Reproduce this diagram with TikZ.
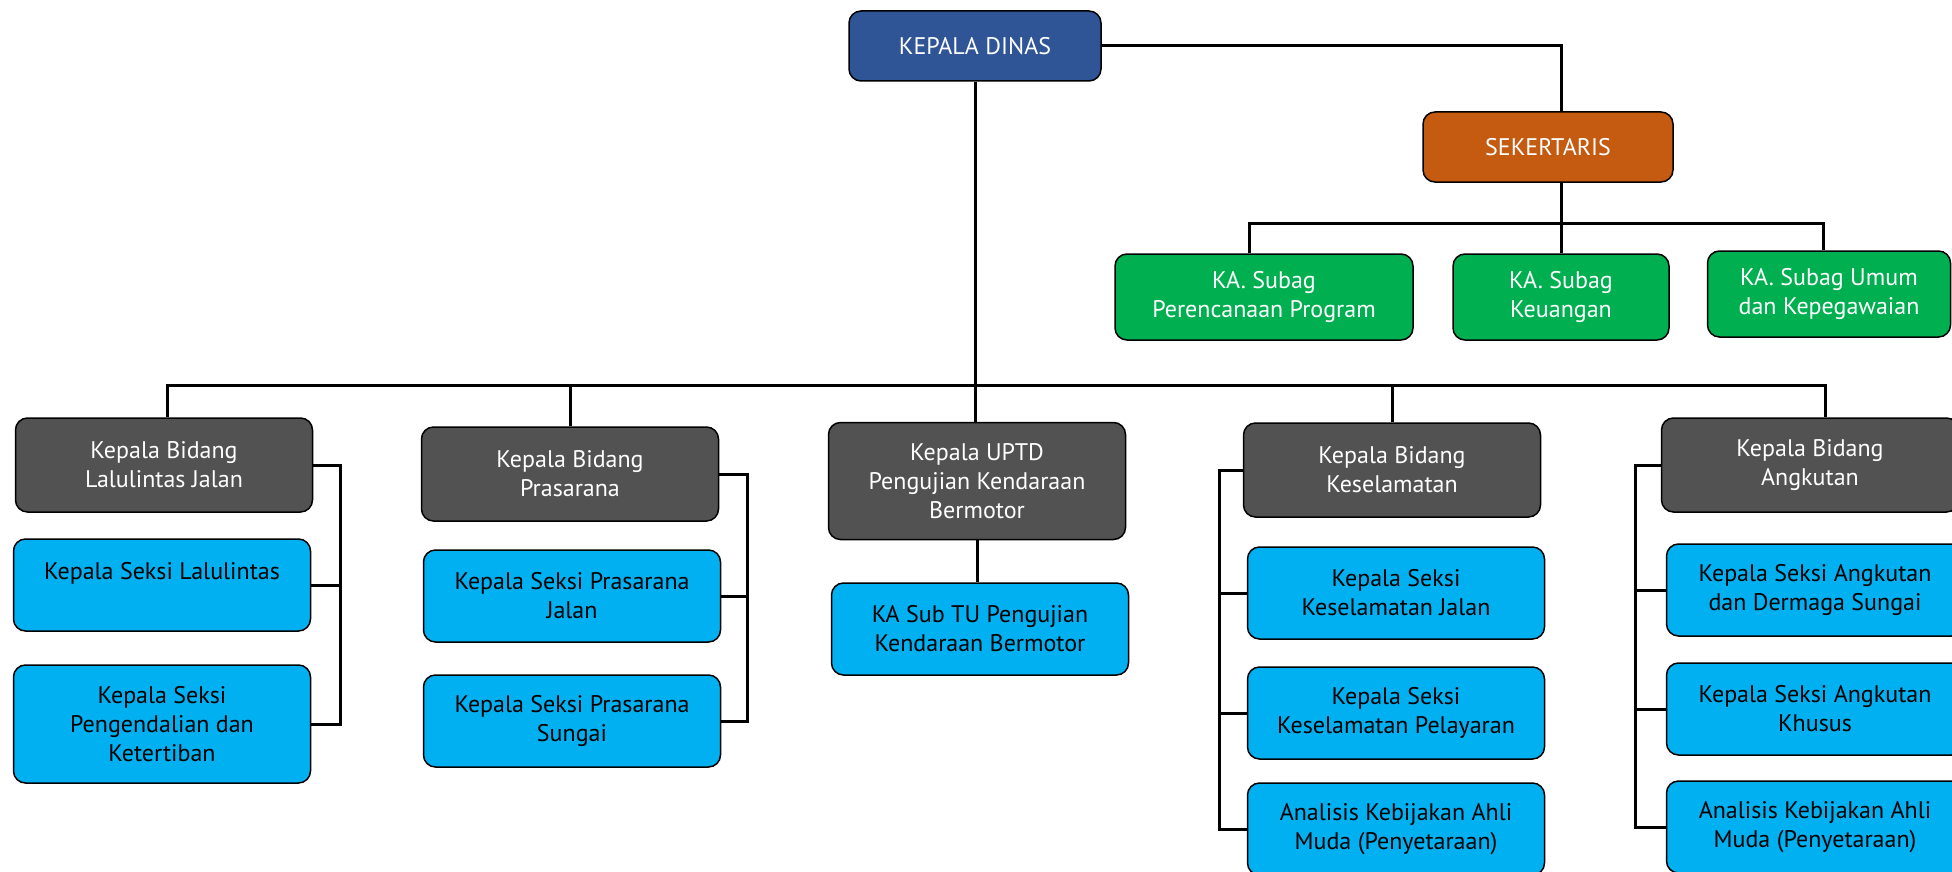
\documentclass[tikz,border=0pt]{standalone}
\usepackage{fontspec}
\setmainfont{PT Sans}
\usetikzlibrary{positioning, calc}
\definecolor{kadisblue}{HTML}{2F5597}
\definecolor{sekorange}{HTML}{C55A11}
\definecolor{subaggreen}{HTML}{00B050}
\definecolor{bidanggrey}{HTML}{525252}
\definecolor{seksiblue}{HTML}{00B0F0}

\begin{document}
\begin{tikzpicture}[x=1pt, y=-1pt,
  unit/.style={rectangle, rounded corners=12pt, draw=black, line width=1.5pt, align=center, font=\fontsize{24}{29}\selectfont, inner sep=2pt},
  kadis/.style={unit, fill=kadisblue, text=white, minimum width=252pt, minimum height=70pt},
  sekre/.style={unit, fill=sekorange, text=white, minimum width=250pt, minimum height=70pt},
  subag/.style={unit, fill=subaggreen, text=white, minimum height=86pt},
  bidang/.style={unit, fill=bidanggrey, text=white, minimum width=297pt, minimum height=94pt},
  seksi/.style={unit, fill=seksiblue, text=black, minimum width=297pt, minimum height=92pt},
  link/.style={line width=3pt}
]
\useasboundingbox (0,0) rectangle (1952,872);

% pimpinan
\node[kadis] (dinas) at (975,46) {KEPALA DINAS};
\node[sekre] (sek) at (1548,147) {SEKERTARIS};

% subag
\node[subag, minimum width=298pt] (per) at (1264,297) {KA. Subag\\Perencanaan Program};
\node[subag, minimum width=216pt] (keu) at (1561,297) {KA. Subag\\Keuangan};
\node[subag, minimum width=243pt] (umum) at (1829,294) {KA. Subag Umum\\dan Kepegawaian};

% bidang
\node[bidang] (lalu) at (164,465) {Kepala Bidang\\Lalulintas Jalan};
\node[bidang] (pras) at (570,474) {Kepala Bidang\\Prasarana};
\node[bidang, minimum height=117pt] (uptd) at (977,481) {Kepala UPTD\\Pengujian Kendaraan\\Bermotor};
\node[bidang] (kesel) at (1392,470) {Kepala Bidang\\Keselamatan};
\node[bidang] (angk) at (1810,465) {Kepala Bidang\\Angkutan};

% seksi
\node[seksi] (lalu1) at (162,585) {Kepala Seksi Lalulintas\\\mbox{}};
\node[seksi, minimum height=118pt] (lalu2) at (162,724) {Kepala Seksi\\Pengendalian dan\\Ketertiban};
\node[seksi] (pras1) at (572,596) {Kepala Seksi Prasarana\\Jalan};
\node[seksi] (pras2) at (572,721) {Kepala Seksi Prasarana\\Sungai};
\node[seksi] (uptd1) at (980,629) {KA Sub TU Pengujian\\Kendaraan Bermotor};
\node[seksi] (kes1) at (1396,593) {Kepala Seksi\\Keselamatan Jalan};
\node[seksi] (kes2) at (1396,713) {Kepala Seksi\\Keselamatan Pelayaran};
\node[seksi] (kes3) at (1396,829) {Analisis Kebijakan Ahli\\Muda (Penyetaraan)};
\node[seksi] (ang1) at (1815,590) {Kepala Seksi Angkutan\\dan Dermaga Sungai};
\node[seksi] (ang2) at (1815,709) {Kepala Seksi Angkutan\\Khusus};
\node[seksi] (ang3) at (1815,827) {Analisis Kebijakan Ahli\\Muda (Penyetaraan)};

% garis
\coordinate (sbus) at (1561,223);
\coordinate (bus) at (975,385);
\draw[link] (dinas.east) -| (sek.north -| keu.north);
\draw[link] (sek.south -| keu.north) -- (keu.north);
\draw[link] ([xshift=-15pt]per.north) |- (sbus) -| ([xshift=-6pt]umum.north);
\draw[link] (dinas.south) -- (dinas.south |- uptd.north);
\draw[link] ([xshift=3pt]lalu.north) |- (bus) -| ([xshift=15pt]angk.north);
\draw[link] (pras.north) -- (pras.north |- bus);
\draw[link] (kesel.north) -- (kesel.north |- bus);
\draw[link] (uptd.south) -- (uptd.south |- uptd1.north);

\coordinate (lbr) at (340,0);
\coordinate (pbr) at (747,0);
\coordinate (kbr) at (1219,0);
\coordinate (abr) at (1635,0);
\draw[link] (lalu.east) -| (lbr |- lalu2.east) -- (lalu2.east);
\draw[link] (lalu1.east) -- (lbr |- lalu1.east);
\draw[link] (pras.east) -| (pbr |- pras2.east) -- (pras2.east);
\draw[link] (pras1.east) -- (pbr |- pras1.east);
\draw[link] (kesel.west) -| (kbr |- kes3.west) -- (kes3.west);
\draw[link] (kes1.west) -- (kbr |- kes1.west);
\draw[link] (kes2.west) -- (kbr |- kes2.west);
\draw[link] (angk.west) -| (abr |- ang3.west) -- (ang3.west);
\draw[link] (ang1.west) -- (abr |- ang1.west);
\draw[link] (ang2.west) -- (abr |- ang2.west);
\end{tikzpicture}
\end{document}
